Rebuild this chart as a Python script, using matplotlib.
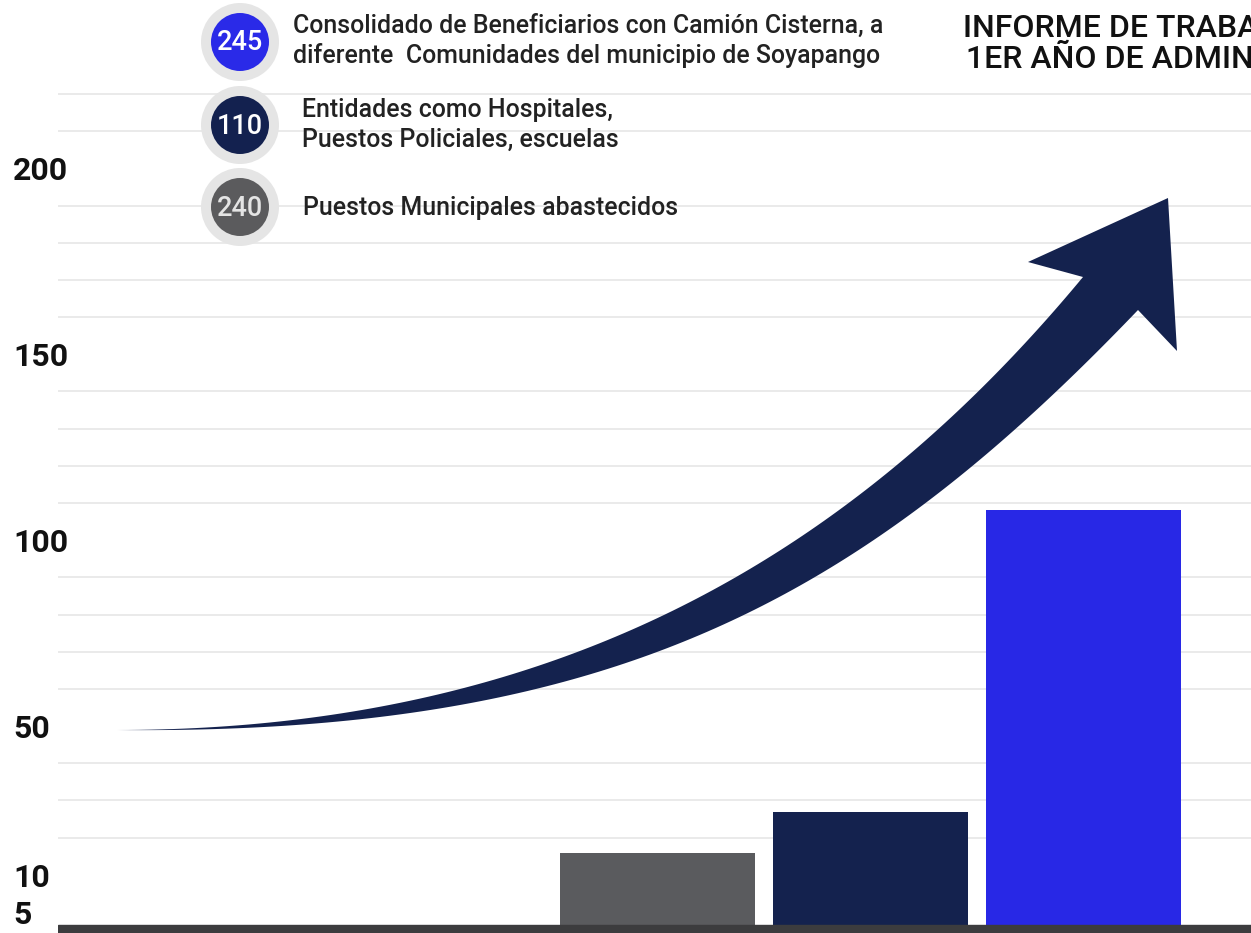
import numpy as np
import matplotlib
matplotlib.use('Agg')
import matplotlib.pyplot as plt
from matplotlib.patches import Circle, Polygon

# ---- data ----
categories = ['Puestos Municipales', 'Entidades', 'Beneficiarios']
values = [16, 27, 108]
bar_colors = ['#5a5b5e', '#14224e', '#2828e6']
tick_positions = [0, 10, 50, 100, 150, 200]
tick_labels = ['5', '10', '50', '100', '150', '200']
legend_numbers = ['245', '110', '240']
legend_colors = ['#2a2ae8', '#13214f', '#5b5b5d']
legend_number_colors = ['white', 'white', '#e4e4e4']
legend_texts = [
    ['Consolidado de Beneficiarios con Camión Cisterna, a',
     'diferente  Comunidades del municipio de Soyapango'],
    ['Entidades como Hospitales,', 'Puestos Policiales, escuelas'],
    ['Puestos Municipales abastecidos'],
]
title_lines = ['INFORME DE TRABAJO', '1ER AÑO DE ADMINISTRACIÓN']
baseline = -3.5

plt.rcParams['font.family'] = ['Roboto', 'DejaVu Sans']

W, H = 1251, 933
fig = plt.figure(figsize=(W / 100, H / 100), dpi=100)
fig.patch.set_facecolor('white')

left_px = 58
ax = fig.add_axes([left_px / W, 0, 1 - left_px / W, 1])
ymin, ymax = -5.65, 245.3
ax.set_xlim(-2.815, 2.786)
ax.set_ylim(ymin, ymax)
for s in ax.spines.values():
    s.set_visible(False)
ax.set_xticks([])

# grid lines
ax.set_yticks(np.arange(0, 230, 10), minor=True)
ax.grid(which='minor', axis='y', color='#e8e8e8', linewidth=1.3, zorder=0)
ax.tick_params(axis='y', which='minor', length=0)
ax.set_yticks(tick_positions)
ax.set_yticklabels(tick_labels)
ax.tick_params(axis='y', which='major', length=0, pad=(left_px - 13) * 0.72,
               labelsize=23, labelcolor='#111111')
for lbl in ax.get_yticklabels():
    lbl.set_horizontalalignment('left')
    lbl.set_fontweight('semibold')
ax.set_axisbelow(True)

x = np.arange(len(categories))
ax.bar(x, [v - baseline for v in values], bottom=baseline, width=0.915,
       color=bar_colors, zorder=3)
ax.axhspan(ymin, baseline, color='#3c3c3e', zorder=4)

# ---- overlay (decoration) in pixel coordinates ----
ov = fig.add_axes([0, 0, 1, 1])
ov.set_xlim(0, W)
ov.set_ylim(H, 0)
ov.axis('off')
ov.patch.set_alpha(0)


def bez(P0, P1, P2, P3, n=120):
    t = np.linspace(0, 1, n)[:, None]
    P0, P1, P2, P3 = map(np.array, (P0, P1, P2, P3))
    return (1 - t) ** 3 * P0 + 3 * (1 - t) ** 2 * t * P1 + 3 * (1 - t) * t ** 2 * P2 + t ** 3 * P3


upper = bez((117, 730), (567, 730), (859, 547), (1083, 277))
lower = bez((117, 730), (617, 735), (862, 598), (1138, 310))
head = np.array([(1028, 262), (1168, 198), (1177, 351)])
poly = np.vstack([upper, head, lower[::-1]])
ov.add_patch(Polygon(poly, closed=True, fc='#14224e', ec='none', zorder=5))

# legend circles
centers_y = [42, 125, 207]
for cy, num, col, ncol in zip(centers_y, legend_numbers, legend_colors, legend_number_colors):
    ov.add_patch(Circle((240, cy), 39, fc='#e5e5e5', ec='none', zorder=6))
    ov.add_patch(Circle((240, cy), 29, fc=col, ec='none', zorder=7))
    ov.text(240, cy + 1, num, color=ncol, fontsize=19.5, ha='center', va='center',
            fontweight='medium', zorder=8)

legend_pos = [(293, [33, 63]), (302, [117, 147]), (303, [215])]
for (lx, ys), lines in zip(legend_pos, legend_texts):
    for yy, line in zip(ys, lines):
        ov.text(lx, yy, line, fontsize=17.9, color='#222222', ha='left', va='baseline',
                fontweight='medium', zorder=8)

ov.text(963, 37, title_lines[0], fontsize=23, color='#111111', ha='left', va='baseline',
        fontweight='medium', zorder=8)
ov.text(966, 68, title_lines[1], fontsize=23, color='#111111', ha='left', va='baseline',
        fontweight='medium', zorder=8)

fig.savefig('out.png', dpi=100)
